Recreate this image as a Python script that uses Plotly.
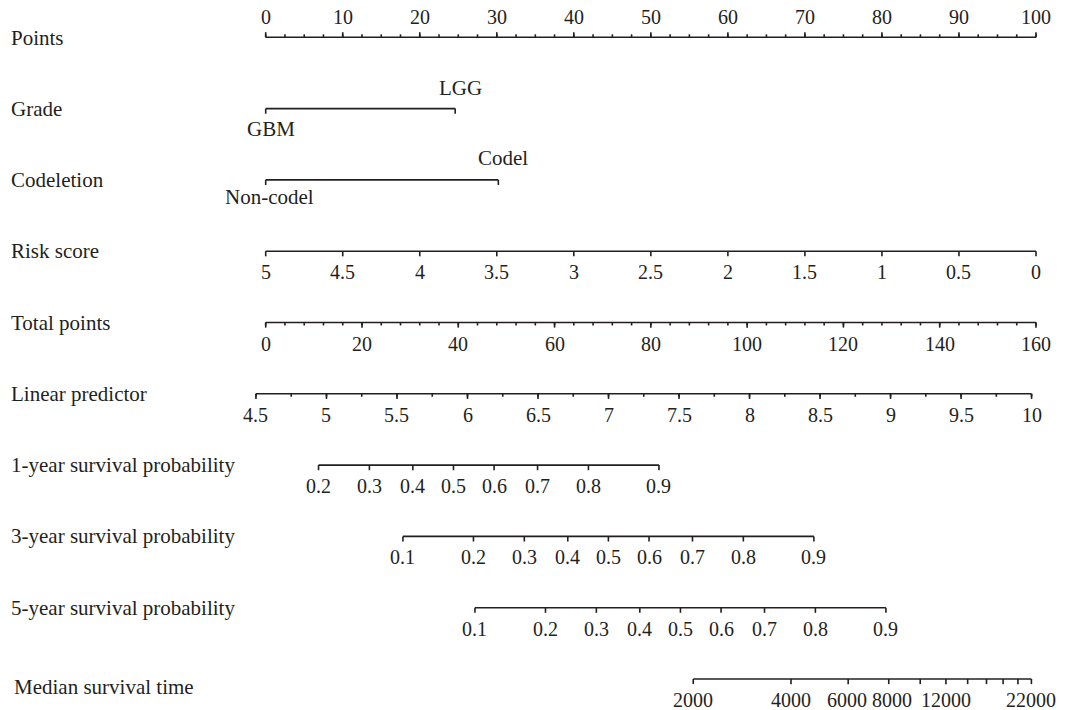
import math
from statistics import NormalDist
import plotly.graph_objects as go

# ---- model scales (all positions expressed in "Points", 0-100) ----
points_major = list(range(0, 101, 10))
points_minor = [i * 2.5 for i in range(41)]

grade_levels = ["GBM", "LGG"]
grade_points = [0.0, 24.6]

codel_levels = ["Non-codel", "Codel"]
codel_points = [0.0, 30.2]

risk_values = [5, 4.5, 4, 3.5, 3, 2.5, 2, 1.5, 1, 0.5, 0]
risk_max = 5.0                      # risk score giving 0 points

total_major = list(range(0, 161, 20))
total_minor = list(range(0, 161, 4))
total_max = 160.0

lp_major = [4.5 + 0.5 * i for i in range(12)]
lp_minor = [4.5 + 0.25 * i for i in range(23)]
lp_at_zero = 4.569                  # linear predictor at 0 total points
lp_per_total = 0.03414              # linear predictor per total point

# log-normal survival model: S(t) = 1 - Phi((ln t - lp) / sigma)
surv_sigma = 1.137
days_per_year = 365.25
surv_years = [1, 3, 5]
surv_probs = {
    1: [0.2, 0.3, 0.4, 0.5, 0.6, 0.7, 0.8, 0.9],
    3: [0.1, 0.2, 0.3, 0.4, 0.5, 0.6, 0.7, 0.8, 0.9],
    5: [0.1, 0.2, 0.3, 0.4, 0.5, 0.6, 0.7, 0.8, 0.9],
}

median_ticks = list(range(2000, 22001, 2000))
median_labels = [2000, 4000, 6000, 8000, 12000, 22000]

row_names = ["Points", "Grade", "Codeletion", "Risk score", "Total points",
             "Linear predictor", "1-year survival probability",
             "3-year survival probability", "5-year survival probability",
             "Median survival time"]

# ---- conversions to the Points scale ----
def total_to_pts(t):
    return t * 100.0 / total_max

def lp_to_pts(lp):
    return total_to_pts((lp - lp_at_zero) / lp_per_total)

def risk_to_pts(r):
    return (risk_max - r) * 100.0 / risk_max

def surv_to_lp(p, years):
    z = NormalDist().inv_cdf(1 - p)
    return math.log(years * days_per_year) - surv_sigma * z

def fmt(v):
    return "%g" % v

INK = "#231f20"
FONT = "Liberation Serif"
FS = 20        # tick labels
FS_TITLE = 21  # row titles
MAJ = 0.072    # tick length (row units)
MIN = 0.042

fig = go.Figure()
annotations = []


def draw_row(row, xs_major, xs_minor=(), up=False):
    """Axis line plus tick marks for one nomogram row."""
    lo, hi = min(xs_major), max(xs_major)
    sgn = -1 if up else 1
    xs, ys = [lo, hi, None], [row, row, None]
    for x in xs_major:
        xs += [x, x, None]
        ys += [row, row + sgn * MAJ, None]
    for x in xs_minor:
        xs += [x, x, None]
        ys += [row, row + sgn * MIN, None]
    fig.add_trace(go.Scatter(x=xs, y=ys, mode="lines",
                             line=dict(color=INK, width=1.6),
                             hoverinfo="skip", showlegend=False))


def tick_label(x, row, text, above=False, shift=21, dx=0, size=FS):
    annotations.append(dict(
        x=x, y=row, xref="x", yref="y", text=text, showarrow=False,
        yshift=shift if above else -shift, xshift=dx,
        xanchor="center", yanchor="middle",
        font=dict(family=FONT, size=size, color=INK)))


# row 0: Points
draw_row(0, points_major, points_minor, up=True)
for v in points_major:
    tick_label(v, 0, str(v), above=True, shift=20)

# row 1: Grade
draw_row(1, grade_points)
tick_label(grade_points[0], 1, grade_levels[0], above=False, shift=20, dx=5, size=FS_TITLE)
tick_label(grade_points[1], 1, grade_levels[1], above=True, shift=21, dx=5, size=FS_TITLE)

# row 2: Codeletion
draw_row(2, codel_points)
tick_label(codel_points[0], 2, codel_levels[0], above=False, shift=17, dx=4, size=FS_TITLE)
tick_label(codel_points[1], 2, codel_levels[1], above=True, shift=22, dx=5, size=FS_TITLE)

# row 3: Risk score
rx = [risk_to_pts(r) for r in risk_values]
draw_row(3, rx)
for r, x in zip(risk_values, rx):
    tick_label(x, 3, fmt(r))

# row 4: Total points
draw_row(4, [total_to_pts(t) for t in total_major],
         [total_to_pts(t) for t in total_minor])
for t in total_major:
    tick_label(total_to_pts(t), 4, str(t))

# row 5: Linear predictor
draw_row(5, [lp_to_pts(v) for v in lp_major], [lp_to_pts(v) for v in lp_minor])
for v in lp_major:
    tick_label(lp_to_pts(v), 5, fmt(v))

# rows 6-8: survival probabilities
for i, yr in enumerate(surv_years):
    row = 6 + i
    xs = [lp_to_pts(surv_to_lp(p, yr)) for p in surv_probs[yr]]
    draw_row(row, xs)
    for p, x in zip(surv_probs[yr], xs):
        tick_label(x, row, fmt(p))

# row 9: Median survival time (log scale of the linear predictor)
mx = [lp_to_pts(math.log(t)) for t in median_ticks]
draw_row(9, mx)
median_nudge = {6000: -1, 8000: 3}
for t in median_labels:
    tick_label(lp_to_pts(math.log(t)), 9, str(t), dx=median_nudge.get(t, 0))

# row titles
title_offsets = {0: (0, -1), 9: (3, -8)}
for i, name in enumerate(row_names):
    dx, dy = title_offsets.get(i, (0, 0))
    annotations.append(dict(
        x=9 / 1066, y=i, xref="paper", yref="y", text=name, showarrow=False,
        xanchor="left", yanchor="middle", xshift=dx, yshift=dy,
        font=dict(family=FONT, size=FS_TITLE, color=INK)))

px_per_pt = 7.703
x0_px = 265.7
row0_px = 37.3
row_px = 71.3
W, H = 1066, 710

fig.update_layout(
    width=W, height=H,
    margin=dict(l=0, r=0, t=0, b=0),
    paper_bgcolor="white", plot_bgcolor="white",
    xaxis=dict(range=[-x0_px / px_per_pt, (W - x0_px) / px_per_pt],
               visible=False, fixedrange=True),
    yaxis=dict(range=[(H - row0_px) / row_px, -row0_px / row_px],
               visible=False, fixedrange=True),
    annotations=annotations,
    showlegend=False,
)

fig.write_html("out.html")
